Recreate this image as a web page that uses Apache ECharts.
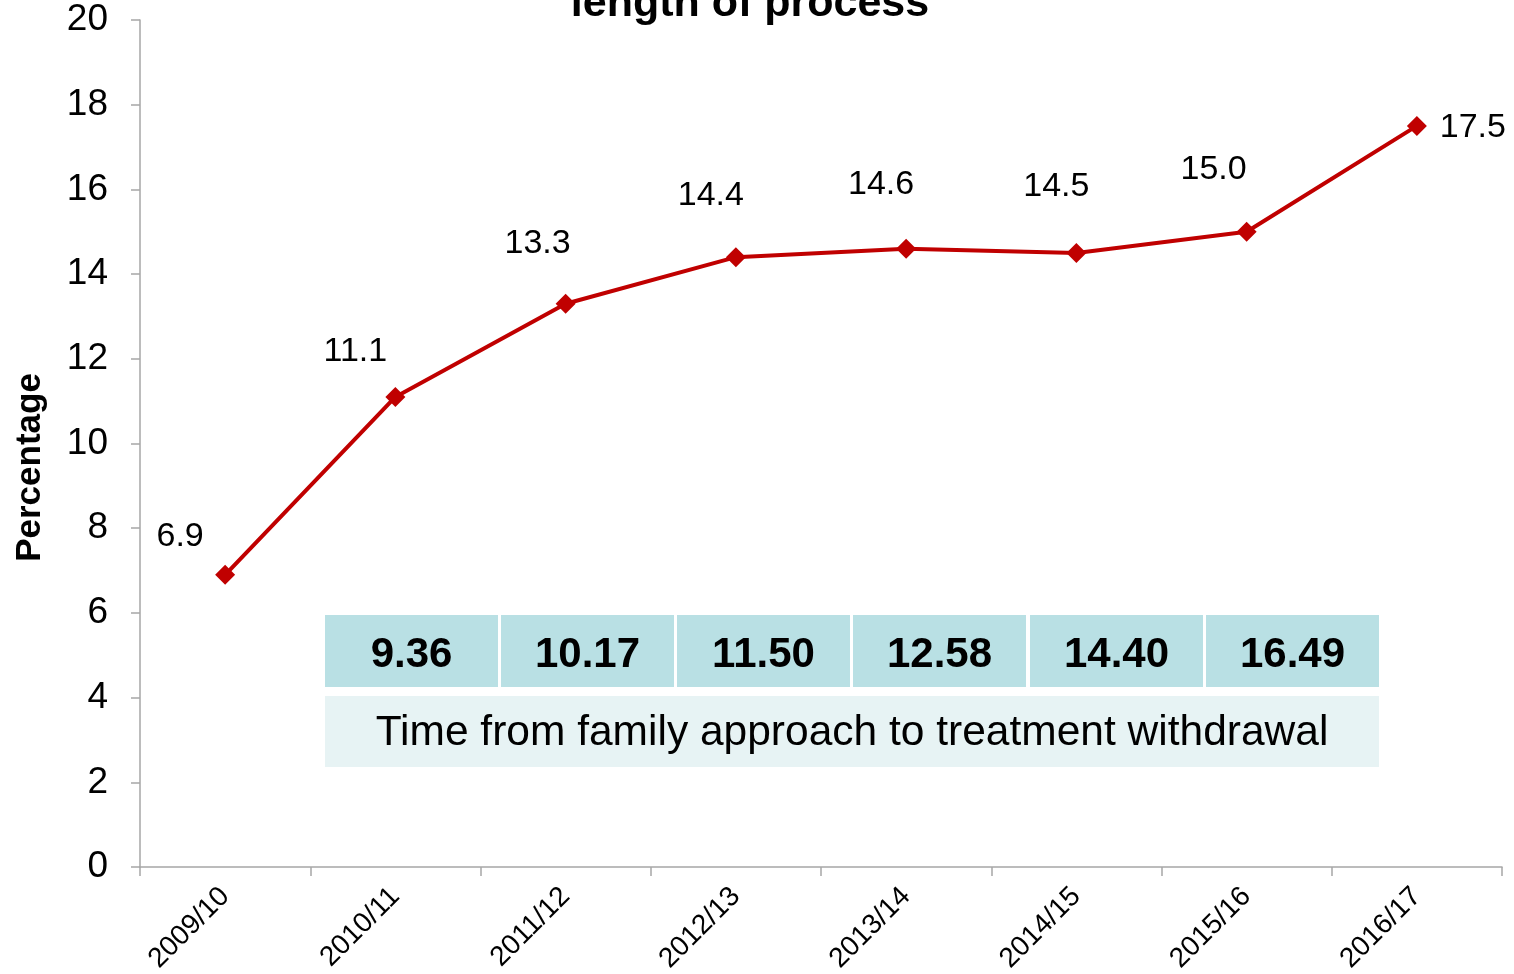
<!DOCTYPE html>
<html>
<head>
<meta charset="utf-8">
<script src="https://cdn.jsdelivr.net/npm/echarts@6/dist/echarts.min.js"></script>
<style>html,body{margin:0;padding:0;background:#fff}#c{width:1514px;height:974px}</style>
</head>
<body>
<div id="c"></div>
<script>
var categories = ['2009/10','2010/11','2011/12','2012/13','2013/14','2014/15','2015/16','2016/17'];
var percentages = [6.9, 11.1, 13.3, 14.4, 14.6, 14.5, 15.0, 17.5];
var yTicks = [0, 2, 4, 6, 8, 10, 12, 14, 16, 18, 20];
var tableValues = ['9.36', '10.17', '11.50', '12.58', '14.40', '16.49'];
var tableCaption = 'Time from family approach to treatment withdrawal';
var titleText = 'length of process';
var yAxisName = 'Percentage';

var FONT = '"Liberation Sans", Arial, sans-serif';
var labelOffsets = [[-45,-38],[-40,-45],[-28,-60],[-25,-62],[-25,-64],[-20,-66],[-33,-62],[56,2]];

var data = percentages.map(function (v, i) {
  return {
    value: v,
    label: { offset: labelOffsets[i] }
  };
});

var graphics = [];
graphics.push({
  type: 'text', x: 750, y: 4,
  style: { text: titleText, font: 'bold 43px ' + FONT, fill: '#000', align: 'center', verticalAlign: 'middle' }
});
var cellX = [325, 501, 677, 853, 1030, 1206];
var cellW = 173;
tableValues.forEach(function (t, i) {
  graphics.push({
    type: 'rect', shape: { x: cellX[i], y: 615, width: cellW, height: 72 },
    style: { fill: '#b9e0e4' }
  });
  graphics.push({
    type: 'text', x: cellX[i] + cellW / 2, y: 655,
    style: { text: t, font: 'bold 42px ' + FONT, fill: '#000', align: 'center', verticalAlign: 'middle' }
  });
});
graphics.push({
  type: 'rect', shape: { x: 325, y: 696, width: 1054, height: 71 },
  style: { fill: '#e7f3f4' }
});
graphics.push({
  type: 'text', x: 852, y: 733,
  style: { text: tableCaption, font: '42.5px ' + FONT, fill: '#000', align: 'center', verticalAlign: 'middle' }
});

var chart = echarts.init(document.getElementById('c'));
chart.setOption({
  animation: false,
  backgroundColor: '#fff',
  grid: { left: 140, right: 12, top: 20, bottom: 107, containLabel: false, outerBoundsMode: 'none' },
  xAxis: {
    type: 'category', data: categories, boundaryGap: true,
    axisLine: { lineStyle: { color: '#a6a6a6', width: 1.5 } },
    axisTick: { show: true, length: 9, alignWithLabel: false, lineStyle: { color: '#a6a6a6', width: 1.5 } },
    axisLabel: { rotate: 45, margin: 25, fontSize: 28, fontFamily: FONT, color: '#000' },
    splitLine: { show: false }
  },
  yAxis: {
    type: 'value', min: yTicks[0], max: yTicks[yTicks.length - 1], interval: 2,
    name: yAxisName, nameLocation: 'middle', nameRotate: 90, nameGap: 92,
    nameTextStyle: { fontSize: 35, fontWeight: 'bold', fontFamily: FONT, color: '#000', padding: [0, 48, 0, 0] },
    axisLine: { show: true, lineStyle: { color: '#a6a6a6', width: 1.5 } },
    axisTick: { show: true, length: 9, inside: false, lineStyle: { color: '#a6a6a6', width: 1.5 } },
    axisLabel: { margin: 32, fontSize: 37, fontFamily: FONT, color: '#000' },
    splitLine: { show: false }
  },
  series: [{
    type: 'line', data: data,
    symbol: 'diamond', symbolSize: 20,
    lineStyle: { color: '#c00000', width: 4 },
    itemStyle: { color: '#c00000' },
    label: {
      show: true, position: 'inside', fontSize: 34, fontFamily: FONT, color: '#000',
      formatter: function (p) { return p.value.toFixed(1); }
    }
  }],
  graphic: graphics
});
</script>
</body>
</html>
